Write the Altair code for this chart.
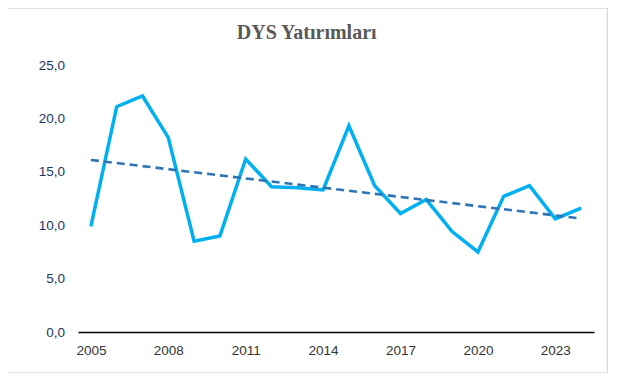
import altair as alt
import pandas as pd

years = list(range(2005, 2025))
values = [9.9, 21.1, 22.1, 18.2, 8.5, 9.0, 16.2, 13.6, 13.5, 13.3,
          19.3, 13.7, 11.1, 12.4, 9.4, 7.5, 12.7, 13.7, 10.6, 11.6]
x_ticks = [2005, 2008, 2011, 2014, 2017, 2020, 2023]
y_ticks = [0, 5, 10, 15, 20, 25]
title_text = "DYS Yatırımları"

df = pd.DataFrame({"year": years, "value": values})

W, H = 516, 267

xs = alt.X("year:Q", scale=alt.Scale(domain=[2004.5, 2024.5], nice=False, zero=False),
           axis=alt.Axis(values=x_ticks, format="d", title=None, grid=False, ticks=False,
                         domain=True, domainColor="#000000", domainWidth=1.3,
                         labelFont="Liberation Sans", labelFontSize=13.5, labelColor="#333333",
                         labelPadding=11.5, labelFlush=False, zindex=1))
ys = alt.Y("value:Q", scale=alt.Scale(domain=[0, 25], nice=False),
           axis=alt.Axis(values=y_ticks, title=None, grid=False, ticks=False, domain=False,
                         labelExpr="replace(format(datum.value, '.1f'), '.', ',')",
                         labelFont="Liberation Sans", labelFontSize=13.5, labelColor="#203764",
                         labelPadding=13.5, zindex=1))

base = alt.Chart(pd.DataFrame({"t": [title_text]}))

border = base.mark_rect(
    fill="white", stroke="#d9d9d9", strokeWidth=1.5
).encode(x=alt.value(-71), x2=alt.value(529.5), y=alt.value(-57), y2=alt.value(308))

title = base.mark_text(
    font="Liberation Serif", fontSize=20, fontWeight="bold", color="#595959",
    align="center", baseline="alphabetic"
).encode(text="t:N", x=alt.value(228.7), y=alt.value(-26))

line = alt.Chart(df).mark_line(color="#00B0F0", strokeWidth=3.5, strokeJoin="miter").encode(x=xs, y=ys)

trend = alt.Chart(df).transform_regression("year", "value").mark_line(
    color="#2E75B6", strokeWidth=2.6, strokeDash=[8, 5]
).encode(x=xs, y=ys)

chart = alt.layer(border, title, line, trend).properties(
    width=W, height=H,
    autosize=alt.AutoSizeParams(type="none"),
    padding={"left": 70, "top": 57, "right": 14, "bottom": 41},
).configure_view(stroke=None).configure(background="white")

chart.save("out.html", embed_options={"renderer": "svg", "actions": False})
